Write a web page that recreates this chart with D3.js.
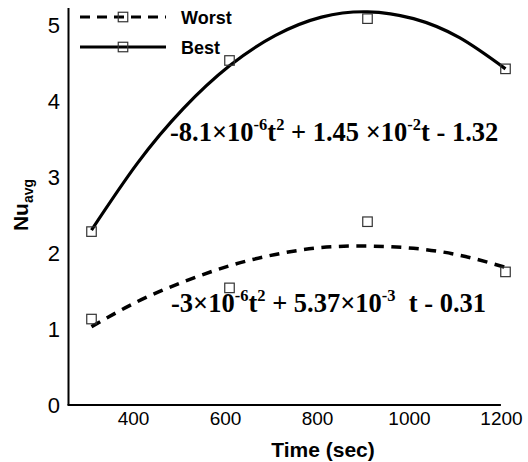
<!DOCTYPE html>
<html><head><meta charset="utf-8">
<script src="https://cdn.jsdelivr.net/npm/d3@7"></script>
<style>body{margin:0;background:#fff}svg{display:block}</style>
</head><body>
<script>
// Measured points
const times = [300, 600, 900, 1200];
const worstVals = [1.13, 1.54, 2.41, 1.75];
const bestVals = [2.28, 4.53, 5.08, 4.42];
// Fitted curves
const fitTimes = [300, 400, 500, 600, 700, 800, 900, 1000, 1100, 1200];
const worstFit = [1.03, 1.36, 1.62, 1.83, 1.98, 2.07, 2.09, 2.06, 1.97, 1.81];
const bestFit = [2.30, 3.18, 3.90, 4.46, 4.86, 5.10, 5.17, 5.08, 4.83, 4.42];
const xTicks = [400, 600, 800, 1000, 1200];
const yTicks = [0, 1, 2, 3, 4, 5];
const seriesNames = ["Worst", "Best"];

const W = 528, H = 462;
const svg = d3.select("body").append("svg").attr("width", W).attr("height", H);
const x = d3.scaleLinear().domain([250, 1200]).range([68.5, 505.5]);
const y = d3.scaleLinear().domain([0, 5.22]).range([405, 8]);

// axes lines
svg.append("line").attr("x1", x(250)).attr("x2", x(250)).attr("y1", y(5.22)).attr("y2", y(0))
  .attr("stroke", "#000").attr("stroke-width", 2);
svg.append("line").attr("x1", x(250) - 1).attr("x2", x(1190)).attr("y1", y(0)).attr("y2", y(0))
  .attr("stroke", "#000").attr("stroke-width", 2);

// tick labels
svg.selectAll(".xt").data(xTicks).enter().append("text")
  .attr("x", d => x(d) - 4).attr("y", 425).attr("text-anchor", "middle")
  .attr("font-family", "Liberation Sans, Arial, sans-serif").attr("font-size", 19)
  .text(d => d);
svg.selectAll(".yt").data(yTicks).enter().append("text")
  .attr("x", 60).attr("y", d => y(d) + 8).attr("text-anchor", "end")
  .attr("font-family", "Liberation Sans, Arial, sans-serif").attr("font-size", 22)
  .text(d => d);

// axis titles
svg.append("text").attr("x", 323).attr("y", 457).attr("text-anchor", "middle")
  .attr("font-family", "Liberation Sans, Arial, sans-serif").attr("font-size", 21).attr("font-weight", "bold")
  .text("Time (sec)");
const yt = svg.append("text").attr("transform", "translate(28,205) rotate(-90)").attr("text-anchor", "middle")
  .attr("font-family", "Liberation Sans, Arial, sans-serif").attr("font-size", 21).attr("font-weight", "bold");
yt.append("tspan").text("Nu");
yt.append("tspan").attr("font-size", 14).attr("dy", 5).text("avg");

// curves
const line = d3.line().x((d, i) => x(fitTimes[i])).y(d => y(d)).curve(d3.curveNatural);
svg.append("path").attr("d", line(worstFit)).attr("fill", "none").attr("stroke", "#000")
  .attr("stroke-width", 3.5).attr("stroke-dasharray", "10,7.5");
svg.append("path").attr("d", line(bestFit)).attr("fill", "none").attr("stroke", "#000")
  .attr("stroke-width", 3.2);

// markers
const ms = 9.5;
[worstVals, bestVals].forEach(vals => {
  svg.selectAll(null).data(vals).enter().append("rect")
    .attr("x", (d, i) => x(times[i]) - ms / 2).attr("y", d => y(d) - ms / 2)
    .attr("width", ms).attr("height", ms).attr("fill", "none")
    .attr("stroke", "#333").attr("stroke-width", 1.2);
});

// legend
const lg = svg.append("g");
[0, 1].forEach(i => {
  const ly = i === 0 ? 17 : 47;
  lg.append("line").attr("x1", 80).attr("x2", 166).attr("y1", ly).attr("y2", ly)
    .attr("stroke", "#000").attr("stroke-width", 3)
    .attr("stroke-dasharray", i === 0 ? "10,7" : null);
  lg.append("rect").attr("x", 123 - ms / 2).attr("y", ly - ms / 2).attr("width", ms).attr("height", ms)
    .attr("fill", "none").attr("stroke", "#333").attr("stroke-width", 1.2);
  lg.append("text").attr("x", 181).attr("y", ly + 7)
    .attr("font-family", "Liberation Sans, Arial, sans-serif").attr("font-size", 18).attr("font-weight", "bold")
    .text(seriesNames[i]);
});

// equations
function eq(xp, yp, parts) {
  const t = svg.append("text").attr("x", xp).attr("y", yp)
    .attr("font-family", "Liberation Serif, Times New Roman, serif").attr("font-size", 26.5).attr("font-weight", "bold")
    .attr("xml:space", "preserve");
  let up = false;
  parts.forEach(p => {
    const sup = p[1];
    const ts = t.append("tspan").text(p[0]);
    if (sup && !up) { ts.attr("dy", -11).attr("font-size", 16.5); up = true; }
    else if (sup) { ts.attr("font-size", 16.5); }
    else if (!sup && up) { ts.attr("dy", 11); up = false; }
  });
}
eq(170, 141, [["-8.1×10", 0], ["-6", 1], ["t", 0], ["2", 1], [" + 1.45 ×10", 0], ["-2", 1], ["t - 1.32", 0]]);
eq(171, 312, [["-3×10", 0], ["-6", 1], ["t", 0], ["2", 1], [" + 5.37×10", 0], ["-3", 1], ["  t - 0.31", 0]]);
</script>
</body></html>
